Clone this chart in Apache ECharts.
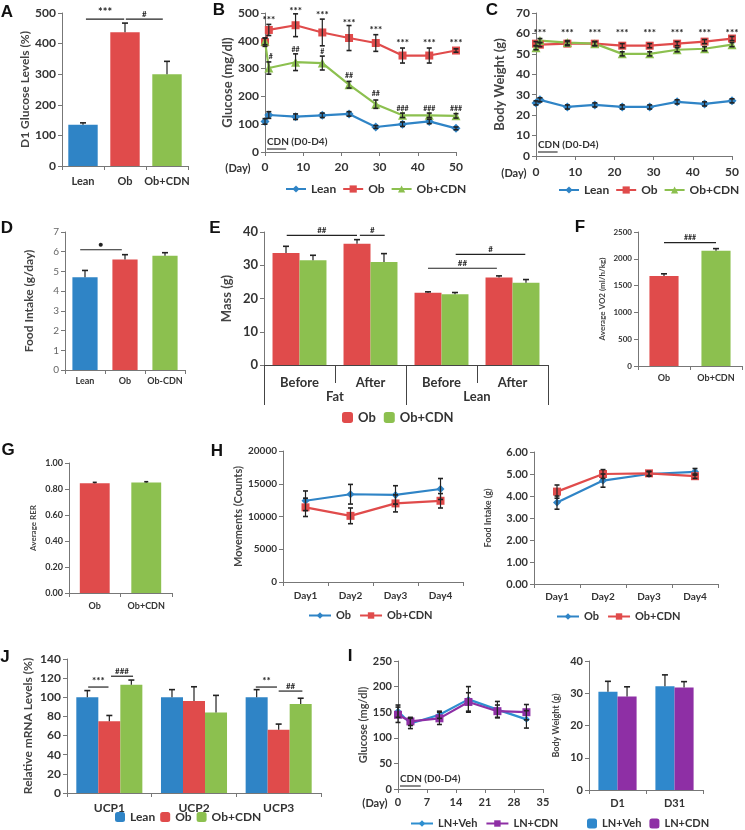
<!DOCTYPE html>
<html><head><meta charset="utf-8">
<script src="https://cdn.jsdelivr.net/npm/echarts@6/dist/echarts.min.js"></script>
<style>html,body{margin:0;padding:0;background:#fff}#c{width:745px;height:830px}</style>
</head><body><div id="c"></div>
<script>
const BLUE='#2f84c6', RED='#e04b4b', GREEN='#8cc04f', PURPLE='#8e2fa5';
const FONT='Lato, "Open Sans", sans-serif';

// ---- A
const aCats=['Lean','Ob','Ob+CDN'];
const aVals=[135,437,300];
const aErr=[6,30,42];
// ---- B
const bDays=[0,1,8,15,22,29,36,43,50];
const bLean=[110,133,127,132,137,90,100,110,85];
const bLeanErr=[10,12,10,8,8,5,8,8,5];
const bOb=[395,439,456,430,410,392,347,347,365];
const bObErr=[15,20,41,48,45,30,27,27,6];
const bCdn=[398,302,323,320,242,172,132,132,130];
const bCdnErr=[12,22,30,25,12,15,8,8,8];
const bObSigDays=[1,8,15,22,29,36,43,50];
const bObSigY=[475,507,493,464,439,392,392,392];
const bCdnSigDays=[1.5,8,15,22,29,36,43,50];
const bCdnSigY=[341,367,360,276,211,157,157,157];
const bCdnSigTxt=['#','##','#','##','##','###','###','###'];
// ---- C
const cDays=[0,1,8,15,22,29,36,43,50];
const cLean=[26,27.5,24,25,24,24,26.5,25.5,27];
const cOb=[55,54.5,55,55,54,54,55,56,57.5];
const cCdn=[53,56.5,55.5,55,50,50,52,52.5,54.5];
const cErr=[1,1,1,1,1,1,1,1,1];
const cSigDays=[1,8,15,22,29,36,43,50];
// ---- D
const dCats=['Lean','Ob','Ob-CDN'];
const dVals=[4.7,5.6,5.8];
const dErr=[0.35,0.25,0.15];
// ---- E
const eCats=['Before','After','Before','After'];
const eGroups=['Fat','Lean'];
const eOb=[33.7,36.5,21.7,26.3];
const eObErr=[2,1.2,0.3,0.5];
const eCdn=[31.5,31,21.3,24.7];
const eCdnErr=[1.5,2.5,0.5,1];
// ---- F
const fCats=['Ob','Ob+CDN'];
const fVals=[1680,2150];
const fErr=[40,40];
// ---- G
const gCats=['Ob','Ob+CDN'];
const gVals=[0.845,0.85];
const gErr=[0.006,0.006];
// ---- H
const hCats=['Day1','Day2','Day3','Day4'];
const hMovOb=[12400,13400,13300,14200];
const hMovObErr=[1500,1500,1400,1600];
const hMovCdn=[11400,10100,12000,12400];
const hMovCdnErr=[1400,1200,1300,1100];
const hFoodOb=[3.7,4.7,5.0,5.1];
const hFoodObErr=[0.3,0.3,0.1,0.15];
const hFoodCdn=[4.2,5.0,5.03,4.9];
const hFoodCdnErr=[0.3,0.2,0.1,0.1];
// ---- J
const jCats=['UCP1','UCP2','UCP3'];
const jLean=[100,100,100];
const jLeanErr=[7,8,8];
const jOb=[75,96,66];
const jObErr=[6,15,6];
const jCdn=[113,84,93];
const jCdnErr=[5,18,6];
// ---- I
const iDays=[0,3,10,17,24,31];
const iVeh=[152,128,145,175,155,136];
const iVehErr=[12,10,7,25,16,17];
const iCdn=[145,132,138,170,152,150];
const iCdnErr=[15,8,12,18,12,15];
const iwCats=['D1','D31'];
const iwVeh=[30.5,32.2];
const iwVehErr=[3.2,3.5];
const iwCdn=[29.0,31.8];
const iwCdnErr=[3.0,1.8];

const grids=[
 {left:62,top:13,width:126,height:153},   //0 A
 {left:265,top:13,width:191,height:139},  //1 B
 {left:536,top:13,width:196,height:143},  //2 C
 {left:65,top:232,width:120,height:138},  //3 D
 {left:264,top:232,width:284,height:133}, //4 E
 {left:638,top:232,width:104,height:134}, //5 F
 {left:69,top:463,width:103,height:130},  //6 G
 {left:283,top:451,width:180,height:131}, //7 H left
 {left:534,top:452,width:184,height:132}, //8 H right
 {left:67,top:659,width:254,height:134},  //9 J
 {left:398,top:661,width:145,height:128}, //10 I left
 {left:589,top:661,width:114,height:129}  //11 I right
];

const AX='#777';
const plain=v=>String(v);
function yAx(gi,min,max,interval,name,fs,gap,nfs,extra){
  return Object.assign({type:'value',gridIndex:gi,min,max,interval,name,nameLocation:'middle',nameGap:gap,nameRotate:90,
    nameTextStyle:{fontFamily:FONT,fontSize:nfs,fontWeight:'bold',color:'#444'},
    axisLine:{show:true,lineStyle:{color:AX}},axisTick:{show:true,length:4,lineStyle:{color:AX}},
    splitLine:{show:false},
    axisLabel:{fontFamily:FONT,fontSize:fs,fontWeight:'bold',color:'#333',margin:6,formatter:plain}},extra||{});
}
function xCat(gi,data,fs,margin,extra){
  return Object.assign({type:'category',gridIndex:gi,data,
    axisLine:{show:true,lineStyle:{color:AX}},axisTick:{show:true,length:4,interval:0,lineStyle:{color:AX}},
    axisLabel:{fontFamily:FONT,fontSize:fs,fontWeight:'bold',color:'#333',margin,interval:0},splitLine:{show:false}},extra||{});
}
function xVal(gi,min,max,interval,fs,margin){
  return {type:'value',gridIndex:gi,min,max,interval,
    axisLine:{show:true,onZero:false,lineStyle:{color:AX}},axisTick:{show:true,length:4,lineStyle:{color:AX}},
    axisLabel:{fontFamily:FONT,fontSize:fs,fontWeight:'bold',color:'#333',margin,formatter:plain},splitLine:{show:false}};
}

const xAxes=[
 xCat(0,aCats,11,10),
 xVal(1,0,50,10,12,9),
 xVal(2,0,50,10,12,10),
 xCat(3,dCats,9,7),
 xCat(4,eCats,13,11,{axisTick:{show:true,length:18,interval:0,lineStyle:{color:'#444'}},axisLine:{show:true,lineStyle:{color:'#444'}}}),
 xCat(5,fCats,9,8),
 xCat(6,gCats,9,9),
 xCat(7,hCats,10,9),
 xCat(8,hCats,10,8),
 xCat(9,jCats,12,9),
 xVal(10,0,35,7,11,8),
 xCat(11,iwCats,11,8),
 // 12: E group axis
 {type:'category',gridIndex:4,position:'bottom',data:eGroups,axisLine:{show:false},
  axisTick:{show:true,length:40,interval:0,lineStyle:{color:'#444'}},
  axisLabel:{fontFamily:FONT,fontSize:13,fontWeight:'bold',color:'#333',margin:25,interval:0}}
];

const yAxes=[
 yAx(0,0,500,100,'D1 Glucose Levels (%)',12,31,12),
 yAx(1,0,500,100,'Glucose (mg/dl)',12,29,13),
 yAx(2,0,70,10,'Body Weight (g)',12,30,13),
 yAx(3,0,7,1,'Food Intake (g/day)',10,30,12,{axisLabel:{fontFamily:FONT,fontSize:10,color:'#666',margin:6}}),
 yAx(4,0,40,10,'Mass (g)',13,31,13),
 yAx(5,0,2500,500,'Average VO2 (ml/h/kg)',8,32,8),
 yAx(6,0,1,0.2,'Average RER',9,32,8,{axisLabel:{fontFamily:FONT,fontSize:9,fontWeight:'bold',color:'#333',margin:6,formatter:v=>v.toFixed(2)}}),
 yAx(7,0,20000,5000,'Movements (Counts)',10,38,11),
 yAx(8,0,6,1,'Food Intake (g)',11,41,9,{axisLabel:{fontFamily:FONT,fontSize:11,fontWeight:'bold',color:'#333',margin:6,formatter:v=>v.toFixed(2)}}),
 yAx(9,0,140,20,'Relative mRNA Levels (%)',12,33,12),
 yAx(10,0,250,50,'Glucose (mg/dl)',11,28,11),
 yAx(11,0,40,10,'Body Weight (g)',11,28,9)
];

const series=[];
function errSeries(gi,xs,ys,es,opt){
  opt=opt||{};
  return {type:'custom',xAxisIndex:gi,yAxisIndex:gi,silent:true,clip:false,z:opt.z||4,
    data:xs.map((x,i)=>[x,ys[i],es[i]]),
    renderItem:(params,api)=>{
      const x=api.value(0),y=api.value(1),e=api.value(2);
      const p=api.coord([x,y]);
      let cx=p[0];
      if(opt.off!==undefined) cx+=opt.off*api.size([1,0])[0];
      const t=api.coord([x,y+e])[1];
      const b=opt.both?api.coord([x,y-e])[1]:p[1];
      const c=opt.cap||3;
      const st={stroke:'#222',lineWidth:1.2};
      const ch=[{type:'line',shape:{x1:cx,y1:b,x2:cx,y2:t},style:st},
                {type:'line',shape:{x1:cx-c,y1:t,x2:cx+c,y2:t},style:{stroke:'#222',lineWidth:1.6}}];
      if(opt.both) ch.push({type:'line',shape:{x1:cx-c,y1:b,x2:cx+c,y2:b},style:{stroke:'#222',lineWidth:1.6}});
      return {type:'group',children:ch};
    }};
}
function sigSeries(gi,items,opt){
  opt=opt||{};
  return {type:'custom',xAxisIndex:gi,yAxisIndex:gi,silent:true,clip:false,z:5,
    data:items.map(it=>[it.x1,it.y]),
    renderItem:(params,api)=>{
      const it=items[params.dataIndex];
      const bw=opt.cat?api.size([1,0])[0]:0;
      const p1=api.coord([it.x1,it.y]);
      const x1=p1[0]+(it.o1||0)*bw;
      const x2=api.coord([it.x2===undefined?it.x1:it.x2,it.y])[0]+(it.o2||0)*bw;
      const y=p1[1];
      const ch=[];
      if(it.x2!==undefined) ch.push({type:'line',shape:{x1,y1:y,x2,y2:y},style:{stroke:'#222',lineWidth:1.2}});
      ch.push({type:'text',style:{text:it.text,x:(x1+x2)/2,y:it.x2!==undefined?y-1:y,align:'center',
        verticalAlign:it.x2!==undefined?'bottom':'middle',font:(it.fs? 'bold '+it.fs+'px ':'bold 10px ')+FONT,fill:'#222'}});
      return {type:'group',children:ch};
    }};
}
function cdnSeries(gi,d0,d1,dy){
  return {type:'custom',xAxisIndex:gi,yAxisIndex:gi,silent:true,clip:false,z:5,data:[[d0,d1]],
    renderItem:(params,api)=>{
      const p0=api.coord([api.value(0),0]);const p1=api.coord([api.value(1),0]);
      return {type:'group',children:[
        {type:'rect',shape:{x:p0[0]+2,y:p0[1]-dy,width:p1[0]-p0[0],height:2},style:{fill:'#888'}},
        {type:'text',style:{text:'CDN (D0-D4)',x:p0[0]+2,y:p0[1]-dy-1,align:'left',verticalAlign:'bottom',font:'bold 10px '+FONT,fill:'#333'}}
      ]};
    }};
}
function lineS(name,gi,xs,ys,color,symbol,size){
  return {type:'line',name,xAxisIndex:gi,yAxisIndex:gi,data:xs?xs.map((x,i)=>[x,ys[i]]):ys,
    symbol,symbolSize:size,showSymbol:true,lineStyle:{color,width:2.2},itemStyle:{color},z:3,animation:false};
}
function barS(name,gi,ys,colors,gap){
  const multi=Array.isArray(colors);
  const s={type:'bar',name,xAxisIndex:gi,yAxisIndex:gi,barGap:'0%',barCategoryGap:gap,animation:false,
    data:multi?ys.map((v,i)=>({value:v,itemStyle:{color:colors[i]}})):ys.slice()};
  if(!multi) s.itemStyle={color:colors};
  return s;
}
function offs(n,gap){ // centre offsets as fraction of band width
  const w=(1-gap)/n; const r=[]; for(let i=0;i<n;i++) r.push(-(1-gap)/2+(i+0.5)*w); return r;
}
const idx=n=>Array.from({length:n},(_,i)=>i);

// A
series.push(barS(undefined,0,aVals,[BLUE,RED,GREEN],'30%'));
series.push(errSeries(0,idx(3),aVals,aErr,{off:0}));
series.push(sigSeries(0,[{x1:0,o1:0.07,x2:1,o2:-0.02,y:480,text:'***',fs:11},{x1:1,o1:0.02,x2:2,o2:-0.1,y:480,text:'#',fs:8}],{cat:true}));
// B
series.push(errSeries(1,bDays,bLean,bLeanErr,{both:true,cap:2.5}));
series.push(errSeries(1,bDays,bOb,bObErr,{both:true,cap:2.5}));
series.push(errSeries(1,bDays,bCdn,bCdnErr,{both:true,cap:2.5}));
series.push(lineS('Lean|B',1,bDays,bLean,BLUE,'diamond',9));
series.push(lineS('Ob|B',1,bDays,bOb,RED,'rect',8));
series.push(lineS('Ob+CDN|B',1,bDays,bCdn,GREEN,'triangle',9));
series.push(sigSeries(1,bObSigDays.map((d,i)=>({x1:d,y:bObSigY[i],text:'***',fs:10}))
  .concat(bCdnSigDays.map((d,i)=>({x1:d,y:bCdnSigY[i],text:bCdnSigTxt[i],fs:7})))));
series.push(cdnSeries(1,0,5,4));
// C
series.push(errSeries(2,cDays,cLean,cErr,{both:true,cap:2.5}));
series.push(errSeries(2,cDays,cOb,cErr,{both:true,cap:2.5}));
series.push(errSeries(2,cDays,cCdn,cErr,{both:true,cap:2.5}));
series.push(lineS('Lean|C',2,cDays,cLean,BLUE,'diamond',9));
series.push(lineS('Ob|C',2,cDays,cOb,RED,'rect',8));
series.push(lineS('Ob+CDN|C',2,cDays,cCdn,GREEN,'triangle',9));
series.push(sigSeries(2,cSigDays.map(d=>({x1:d,y:60.5,text:'***',fs:10}))));
series.push(cdnSeries(2,0,5,5));
// D
series.push(barS(undefined,3,dVals,[BLUE,RED,GREEN],'37%'));
series.push(errSeries(3,idx(3),dVals,dErr,{off:0}));
series.push(sigSeries(3,[{x1:0,o1:-0.12,x2:1,o2:-0.08,y:6.1,text:'●',fs:8}],{cat:true}));
// E
const eo=offs(2,0.24);
series.push(barS('Ob|E',4,eOb,RED,'24%'));
series.push(barS('Ob+CDN|E',4,eCdn,GREEN,'24%'));
series.push(errSeries(4,idx(4),eOb,eObErr,{off:eo[0]}));
series.push(errSeries(4,idx(4),eCdn,eCdnErr,{off:eo[1]}));
series.push(sigSeries(4,[
  {x1:0,o1:-0.18,x2:1,o2:-0.19,y:39,text:'##',fs:8},
  {x1:1,o1:-0.15,x2:1,o2:0.2,y:39,text:'#',fs:8},
  {x1:2,o1:-0.19,x2:3,o2:-0.22,y:29.1,text:'##',fs:8},
  {x1:2,o1:0.2,x2:3,o2:0.18,y:33.3,text:'#',fs:8}],{cat:true}));
// F
series.push(barS(undefined,5,fVals,[RED,GREEN],'44%'));
series.push(errSeries(5,idx(2),fVals,fErr,{off:0}));
series.push(sigSeries(5,[{x1:0,x2:1,y:2300,text:'###',fs:7}],{cat:true}));
// G
series.push(barS(undefined,6,gVals,[RED,GREEN],'42%'));
series.push(errSeries(6,idx(2),gVals,gErr,{off:0,cap:2}));
// H left
series.push(errSeries(7,idx(4),hMovOb,hMovObErr,{both:true,cap:2.5}));
series.push(errSeries(7,idx(4),hMovCdn,hMovCdnErr,{both:true,cap:2.5}));
series.push(lineS('Ob|H',7,null,hMovOb,BLUE,'diamond',8));
series.push(lineS('Ob+CDN|H',7,null,hMovCdn,RED,'rect',8));
// H right
series.push(errSeries(8,idx(4),hFoodOb,hFoodObErr,{both:true,cap:2.5}));
series.push(errSeries(8,idx(4),hFoodCdn,hFoodCdnErr,{both:true,cap:2.5}));
series.push(lineS('Ob|H2',8,null,hFoodOb,BLUE,'diamond',8));
series.push(lineS('Ob+CDN|H2',8,null,hFoodCdn,RED,'rect',8));
// J
const jo=offs(3,0.22);
series.push(barS('Lean|J',9,jLean,BLUE,'22%'));
series.push(barS('Ob|J',9,jOb,RED,'22%'));
series.push(barS('Ob+CDN|J',9,jCdn,GREEN,'22%'));
series.push(errSeries(9,idx(3),jLean,jLeanErr,{off:jo[0]}));
series.push(errSeries(9,idx(3),jOb,jObErr,{off:jo[1]}));
series.push(errSeries(9,idx(3),jCdn,jCdnErr,{off:jo[2]}));
series.push(sigSeries(9,[
  {x1:0,o1:-0.25,x2:0,o2:-0.01,y:110.7,text:'***',fs:10},
  {x1:0,o1:0.02,x2:0,o2:0.28,y:122,text:'###',fs:8},
  {x1:2,o1:-0.27,x2:2,o2:-0.02,y:110.7,text:'**',fs:10},
  {x1:2,o1:0.0,x2:2,o2:0.28,y:106.5,text:'##',fs:8}],{cat:true}));
// I left
series.push(errSeries(10,iDays,iVeh,iVehErr,{both:true,cap:2.5}));
series.push(errSeries(10,iDays,iCdn,iCdnErr,{both:true,cap:2.5}));
series.push(lineS('LN+Veh|I',10,iDays,iVeh,'#2e8fd0','diamond',7));
series.push(lineS('LN+CDN|I',10,iDays,iCdn,PURPLE,'rect',8));
series.push(cdnSeries(10,0,5,4));
// I right
const io=offs(2,0.33);
series.push(barS('LN+Veh|Iw',11,iwVeh,'#2f88cc','33%'));
series.push(barS('LN+CDN|Iw',11,iwCdn,PURPLE,'33%'));
series.push(errSeries(11,idx(2),iwVeh,iwVehErr,{off:io[0]}));
series.push(errSeries(11,idx(2),iwCdn,iwCdnErr,{off:io[1]}));

function leg(names,left,top,fs,iw,ih,gap){
  return {data:names,left,top,itemWidth:iw||22,itemHeight:ih||9,itemGap:gap||8,selectedMode:false,
    formatter:n=>n.split('|')[0],
    textStyle:{fontFamily:FONT,fontWeight:'bold',fontSize:fs,color:'#333'}};
}
const legends=[
  leg(['Lean|B','Ob|B','Ob+CDN|B'],280,178,12,20,9,6),
  leg(['Lean|C','Ob|C','Ob+CDN|C'],553,179,12,20,9,6),
  leg(['Ob|E','Ob+CDN|E'],337,406,13,11,11),
  leg(['Ob|H','Ob+CDN|H'],303,605,11,22,8),
  leg(['Ob|H2','Ob+CDN|H2'],551,606,11,22,8),
  leg(['Lean|J','Ob|J','Ob+CDN|J'],110,806,12,10,10,5),
  leg(['LN+Veh|I','LN+CDN|I'],405,813,11,22,8),
  leg(['LN+Veh|Iw','LN+CDN|Iw'],582,813,11,10,10)
];

function txt(t,x,y,fs,extra){
  return {type:'text',x,y,style:Object.assign({text:t,font:'bold '+fs+'px "Liberation Sans", Arial, sans-serif',fill:'#111',align:'center',verticalAlign:'middle'},extra||{})};
}
const graphics=[
  txt('A',7,12,17),txt('B',219,10,17),txt('C',492,10,17),txt('D',7,228,17),txt('E',215,228,17),
  txt('F',580,227,17),txt('G',8,450,17),txt('H',217,451,17),txt('J',5,657,17),txt('I',350,656,17),
  txt('(Day)',238,168,11,{font:'bold 11px '+FONT,fill:'#333'}),
  txt('(Day)',514,173,11,{font:'bold 11px '+FONT,fill:'#333'}),
  txt('(Day)',375,803,11,{font:'bold 11px '+FONT,fill:'#333'})
];

const chart=echarts.init(document.getElementById('c'));
chart.setOption({animation:false,backgroundColor:'#fff',grid:grids,xAxis:xAxes,yAxis:yAxes,series,legend:legends,graphic:graphics});
</script></body></html>
